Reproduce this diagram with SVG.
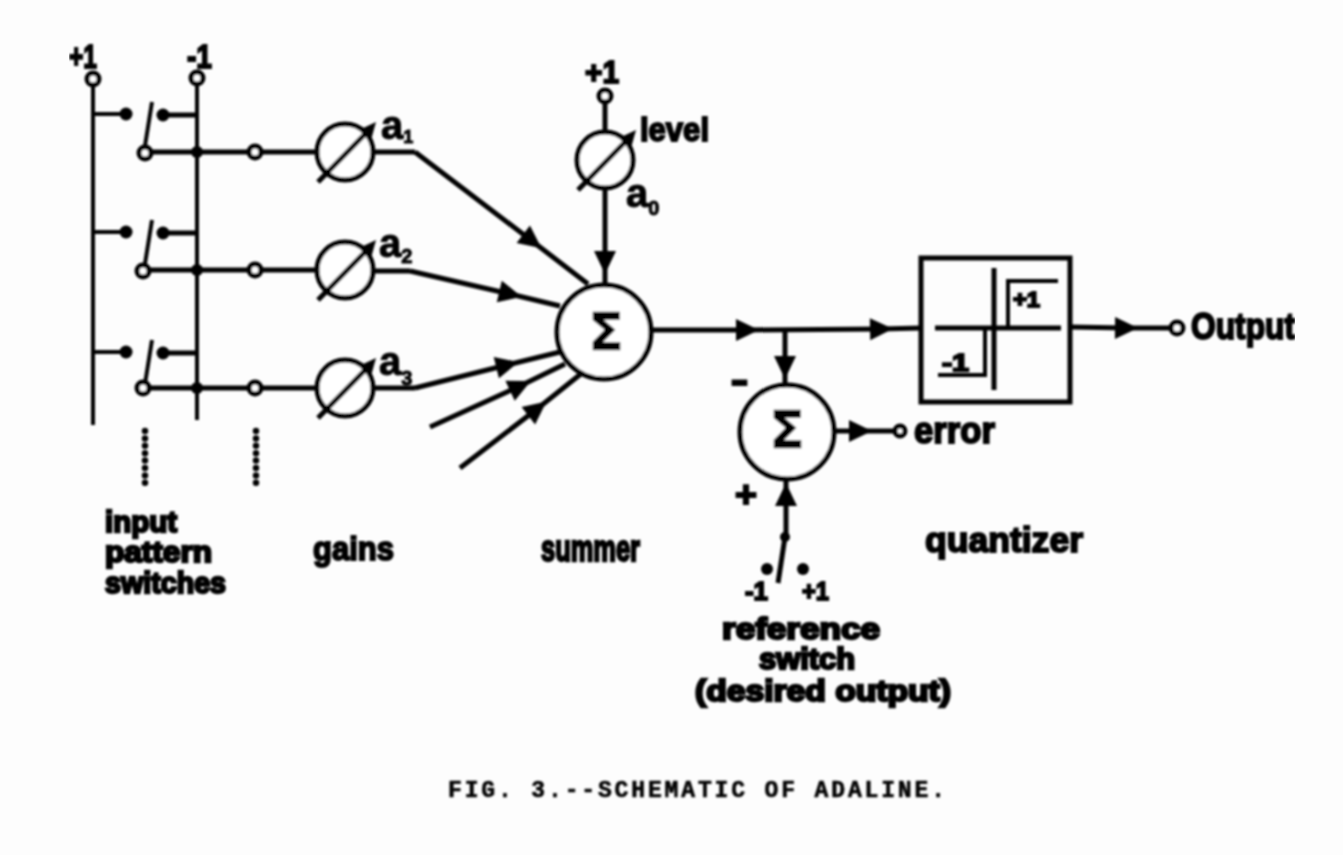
<svg xmlns="http://www.w3.org/2000/svg" width="1343" height="855" viewBox="0 0 1343 855">
<style>
text{font-family:"Liberation Sans",Arial,sans-serif;font-weight:bold;fill:#000;stroke:#000;stroke-width:2;font-size:34px}
.cap{font-family:"Liberation Mono","Courier New",monospace;font-size:23px;stroke-width:.6}
.sig{font-family:"DejaVu Sans",sans-serif;font-size:52px;stroke-width:.6;text-anchor:middle}
.st{font-size:29px;stroke-width:2.4}
.l,.c,.d{fill:none;stroke:#000;stroke-width:5}
.t{stroke-width:4}
.c{fill:#fff;stroke-width:5}
.d{stroke-width:6.5;stroke-dasharray:0 7.4;stroke-linecap:round}
.f{fill:#000}
.a{marker-mid:url(#ah)}
</style>
<defs>
<marker id="ah" markerUnits="userSpaceOnUse" markerWidth="26" markerHeight="26" refX="13" refY="13" orient="auto"><path d="M2 2L25 13L2 24Z" fill="#000"/></marker>
<filter id="b" x="0" y="0" width="100%" height="100%"><feGaussianBlur stdDeviation="1"/></filter>
<g id="gainshape"><circle class="c" r="28"/><path class="l" d="M-27 30L24 -22"/><path class="f" d="M14 -22L31 -30L26 -12Z"/></g>
<g id="sw"><path class="l t" d="M93 0H124"/><circle class="f" cx="126" r="6.5"/><circle class="f" cy="1" cx="163" r="6.5"/><path class="l" d="M163 1H197"/><path class="l t" d="M144 38L152 -12"/></g>
</defs>
<rect width="1343" height="855" fill="#fdfdfd"/>
<g filter="url(#b)">
<g id="connectors">
<path class="l t" d="M93 85V425M197 85V420"/>
<path class="l" d="M150 152H318M150 270H318M150 388H318"/>
<path class="l" d="M372 152H415M372 271H410M372 388H415"/>
<polyline class="l a" points="415,152 532,241 588,284"/>
<polyline class="l a" points="410,271 510,294 560,306"/>
<polyline class="l a" points="415,388 507,365 560,352"/>
<polyline class="l a" points="430,427 520,386 565,364"/>
<polyline class="l a" points="460,468 537,409 582,373"/>
<path class="l" d="M605 102V132"/>
<polyline class="l a" points="605,188 605,262 605,286"/>
<polyline class="l a" points="652,330 747,330 881,329 921,328"/>
<polyline class="l a" points="785,329 785,367 785,388"/>
<polyline class="l a" points="1070,327 1126,328 1172,328"/>
<polyline class="l a" points="834,431 860,431 895,431"/>
<polyline class="l a" points="786,537 786,495 786,480"/>
<path class="l" d="M785 537L778 583"/>
<circle class="f" cx="197" cy="152" r="6"/><circle class="f" cx="197" cy="270" r="6"/><circle class="f" cx="197" cy="388" r="6"/>
<circle class="f" cx="785" cy="537" r="5"/>
<circle class="f" cx="767" cy="569" r="6"/><circle class="f" cx="803" cy="569" r="6"/>
<path class="d" d="M145 431V485M256 431V485"/>
</g>
<g id="rail-plus"><circle class="c" cx="93" cy="79" r="6"/><text x="69" y="68" textLength="28" lengthAdjust="spacingAndGlyphs">+1</text></g>
<g id="rail-minus"><circle class="c" cx="197" cy="78" r="6"/><text x="187" y="68" textLength="25" lengthAdjust="spacingAndGlyphs">-1</text></g>
<g id="switch-1"><use href="#sw" y="114"/><circle class="c" cx="145" cy="153" r="6"/></g>
<g id="switch-2"><use href="#sw" y="232"/><circle class="c" cx="143" cy="271" r="6"/></g>
<g id="switch-3"><use href="#sw" y="352"/><circle class="c" cx="143" cy="388" r="6"/></g>
<g id="node-1"><circle class="c" cx="255" cy="152" r="6"/></g>
<g id="node-2"><circle class="c" cx="255" cy="270" r="6"/></g>
<g id="node-3"><circle class="c" cx="255" cy="388" r="6"/></g>
<g id="gain-1"><use href="#gainshape" x="345" y="152"/><text x="381" y="139" style="font-size:40px;stroke-width:1">a<tspan dy="4" style="font-size:18px">1</tspan></text></g>
<g id="gain-2"><use href="#gainshape" x="345" y="270"/><text x="379" y="257" style="font-size:40px;stroke-width:1">a<tspan dy="6" style="font-size:20px">2</tspan></text></g>
<g id="gain-3"><use href="#gainshape" x="345" y="388"/><text x="379" y="375" style="font-size:40px;stroke-width:1">a<tspan dy="10" style="font-size:20px">3</tspan></text></g>
<g id="gain-0"><circle class="c" cx="605" cy="96" r="6"/><text x="585" y="83" textLength="34" lengthAdjust="spacingAndGlyphs" style="font-size:31px">+1</text><use href="#gainshape" x="605" y="160"/><text x="640" y="141" textLength="69" lengthAdjust="spacingAndGlyphs">level</text><text x="626" y="207" style="font-size:40px;stroke-width:1">a<tspan dy="8" style="font-size:20px">0</tspan></text></g>
<g id="summer"><circle class="c" cx="604" cy="332" r="47"/><text class="sig" x="606" y="350">Σ</text></g>
<g id="error-summer"><circle class="c" cx="787" cy="432" r="47"/><text class="sig" x="787" y="448">Σ</text><text x="731" y="392" textLength="17" lengthAdjust="spacingAndGlyphs" style="font-size:36px">-</text><text x="735" y="507" textLength="22" lengthAdjust="spacingAndGlyphs" style="font-size:36px">+</text></g>
<g id="error-out"><circle class="c" cx="900" cy="431" r="5"/><text x="914" y="443" textLength="81" lengthAdjust="spacingAndGlyphs" style="font-size:37px">error</text></g>
<g id="quantizer"><rect class="l" x="921" y="258" width="149" height="144"/><path class="l" d="M935 328H1061M994 268V390"/><path class="l t" d="M1058 281H1008V328M938 375H985V328"/><text x="1013" y="307" textLength="27" lengthAdjust="spacingAndGlyphs" style="font-size:22px">+1</text><text x="942" y="371" textLength="27" lengthAdjust="spacingAndGlyphs" style="font-size:24px">-1</text></g>
<g id="output"><circle class="c" cx="1177" cy="328" r="6"/><text x="1191" y="339" textLength="104" lengthAdjust="spacingAndGlyphs" style="font-size:37px">Output</text></g>
<g id="reference"><text x="745" y="600" textLength="23" lengthAdjust="spacingAndGlyphs" style="font-size:26px">-1</text><text x="802" y="600" textLength="27" lengthAdjust="spacingAndGlyphs" style="font-size:26px">+1</text>
<text class="st" x="722" y="639" textLength="158" lengthAdjust="spacingAndGlyphs">reference</text><text class="st" x="759" y="669" textLength="96" lengthAdjust="spacingAndGlyphs">switch</text><text class="st" x="695" y="701" textLength="256" lengthAdjust="spacingAndGlyphs">(desired output)</text></g>
<g id="labels"><text class="st" x="105" y="532" textLength="72" lengthAdjust="spacingAndGlyphs">input</text><text class="st" x="105" y="562" textLength="107" lengthAdjust="spacingAndGlyphs">pattern</text><text class="st" x="105" y="593" textLength="121" lengthAdjust="spacingAndGlyphs">switches</text>
<text x="313" y="560" textLength="81" lengthAdjust="spacingAndGlyphs" style="font-size:34px">gains</text><text x="541" y="561" textLength="99" lengthAdjust="spacingAndGlyphs" style="font-size:36px;stroke-width:2.4">summer</text><text x="925" y="552" textLength="158" lengthAdjust="spacingAndGlyphs" style="font-size:35px">quantizer</text></g>
<g id="caption"><text class="cap" x="448" y="797" textLength="497">FIG. 3.--SCHEMATIC OF ADALINE.</text></g>
</g>
</svg>
